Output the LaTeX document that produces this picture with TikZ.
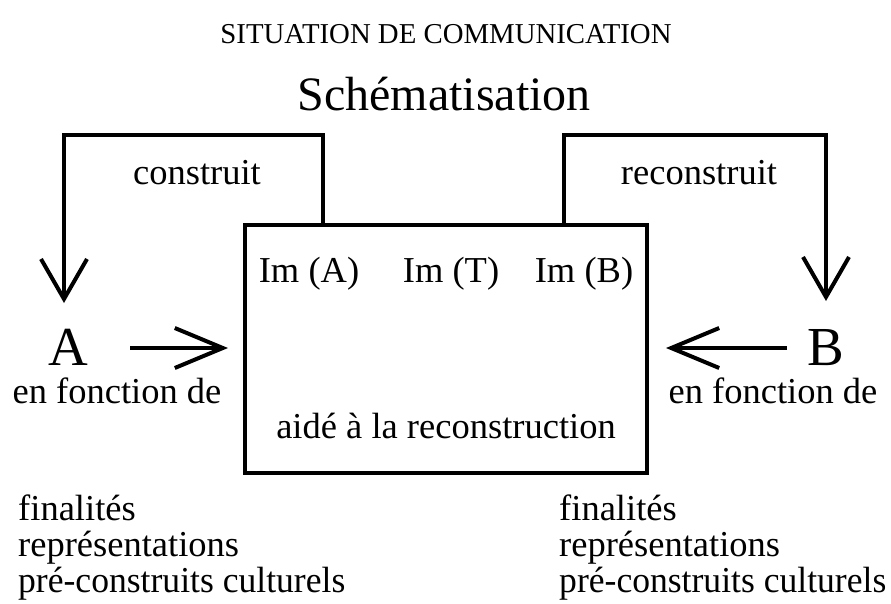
\documentclass[tikz,border=0pt]{standalone}
\usepackage{fontspec}
\usepackage{graphicx}
\setmainfont{Liberation Serif}
\usetikzlibrary{arrows.meta}
\begin{document}
\begin{tikzpicture}[x=1pt,y=-1pt,
  txt/.style={inner sep=0pt,font=\fontsize{36.5}{40}\selectfont},
  big/.style={inner sep=0pt,font=\fontsize{55}{60}\selectfont},
  ln/.style={line width=4pt},
  arr/.style={ln,-{Straight Barb[length=40pt,width=46pt,line width=4pt]}},
  harr/.style={ln,-{Straight Barb[length=48pt,width=40pt,line width=4pt]}}]
\useasboundingbox (0,0) rectangle (891,603);
\node[txt,anchor=base,font=\fontsize{28.8}{32}\selectfont] (title) at (446,43) {SITUATION DE COMMUNICATION};
\node[txt,anchor=base,font=\fontsize{48}{52}\selectfont] (schema) at (444,110) {Schématisation};
\node[draw,ln,minimum width=402pt,minimum height=248pt,anchor=north west,inner sep=0pt] (box) at (243,223) {};
\node[txt,anchor=base] (imA) at (309,282) {Im (A)};
\node[txt,anchor=base] (imT) at (451,282) {Im (T)};
\node[txt,anchor=base] (imB) at (584,282) {Im (B)};
\node[txt,anchor=base] (aide) at (446,438) {aidé à la reconstruction};
\node[big,anchor=base] (A) at (68,365) {A};
\node[big,anchor=base] (B) at (826,365) {B};
\node[txt,anchor=base] (efA) at (117,403) {en fonction de};
\node[txt,anchor=base] (efB) at (773,403) {en fonction de};
\node[txt,anchor=base] (c1) at (197,184) {construit};
\node[txt,anchor=base] (c2) at (699,184) {reconstruit};
\node[txt,anchor=base west] (lA1) at (18,520) {finalités};
\node[txt,anchor=base west] (lA2) at (18,556) {représentations};
\node[txt,anchor=base west] (lA3) at (18,592) {\scalebox{0.975}[1]{pré-construits culturels}};
\node[txt,anchor=base west] (lB1) at (559,520) {finalités};
\node[txt,anchor=base west] (lB2) at (559,556) {représentations};
\node[txt,anchor=base west] (lB3) at (559,592) {\scalebox{0.975}[1]{pré-construits culturels}};
\coordinate (tA) at (64,303);
\coordinate (tB) at (826,301);
\coordinate (hA) at (130,348);
\coordinate (hB) at (787,348);
\draw[arr] (box.north west -| 323,0) -- (323,135) -- (64,135) -- (tA);
\draw[arr] (box.north west -| 564,0) -- (564,135) -- (826,135) -- (tB);
\draw[harr,shorten >=15pt] (hA) -- (box.west |- hA);
\draw[harr,shorten >=17pt] (hB) -- (box.east |- hB);
\end{tikzpicture}
\end{document}
